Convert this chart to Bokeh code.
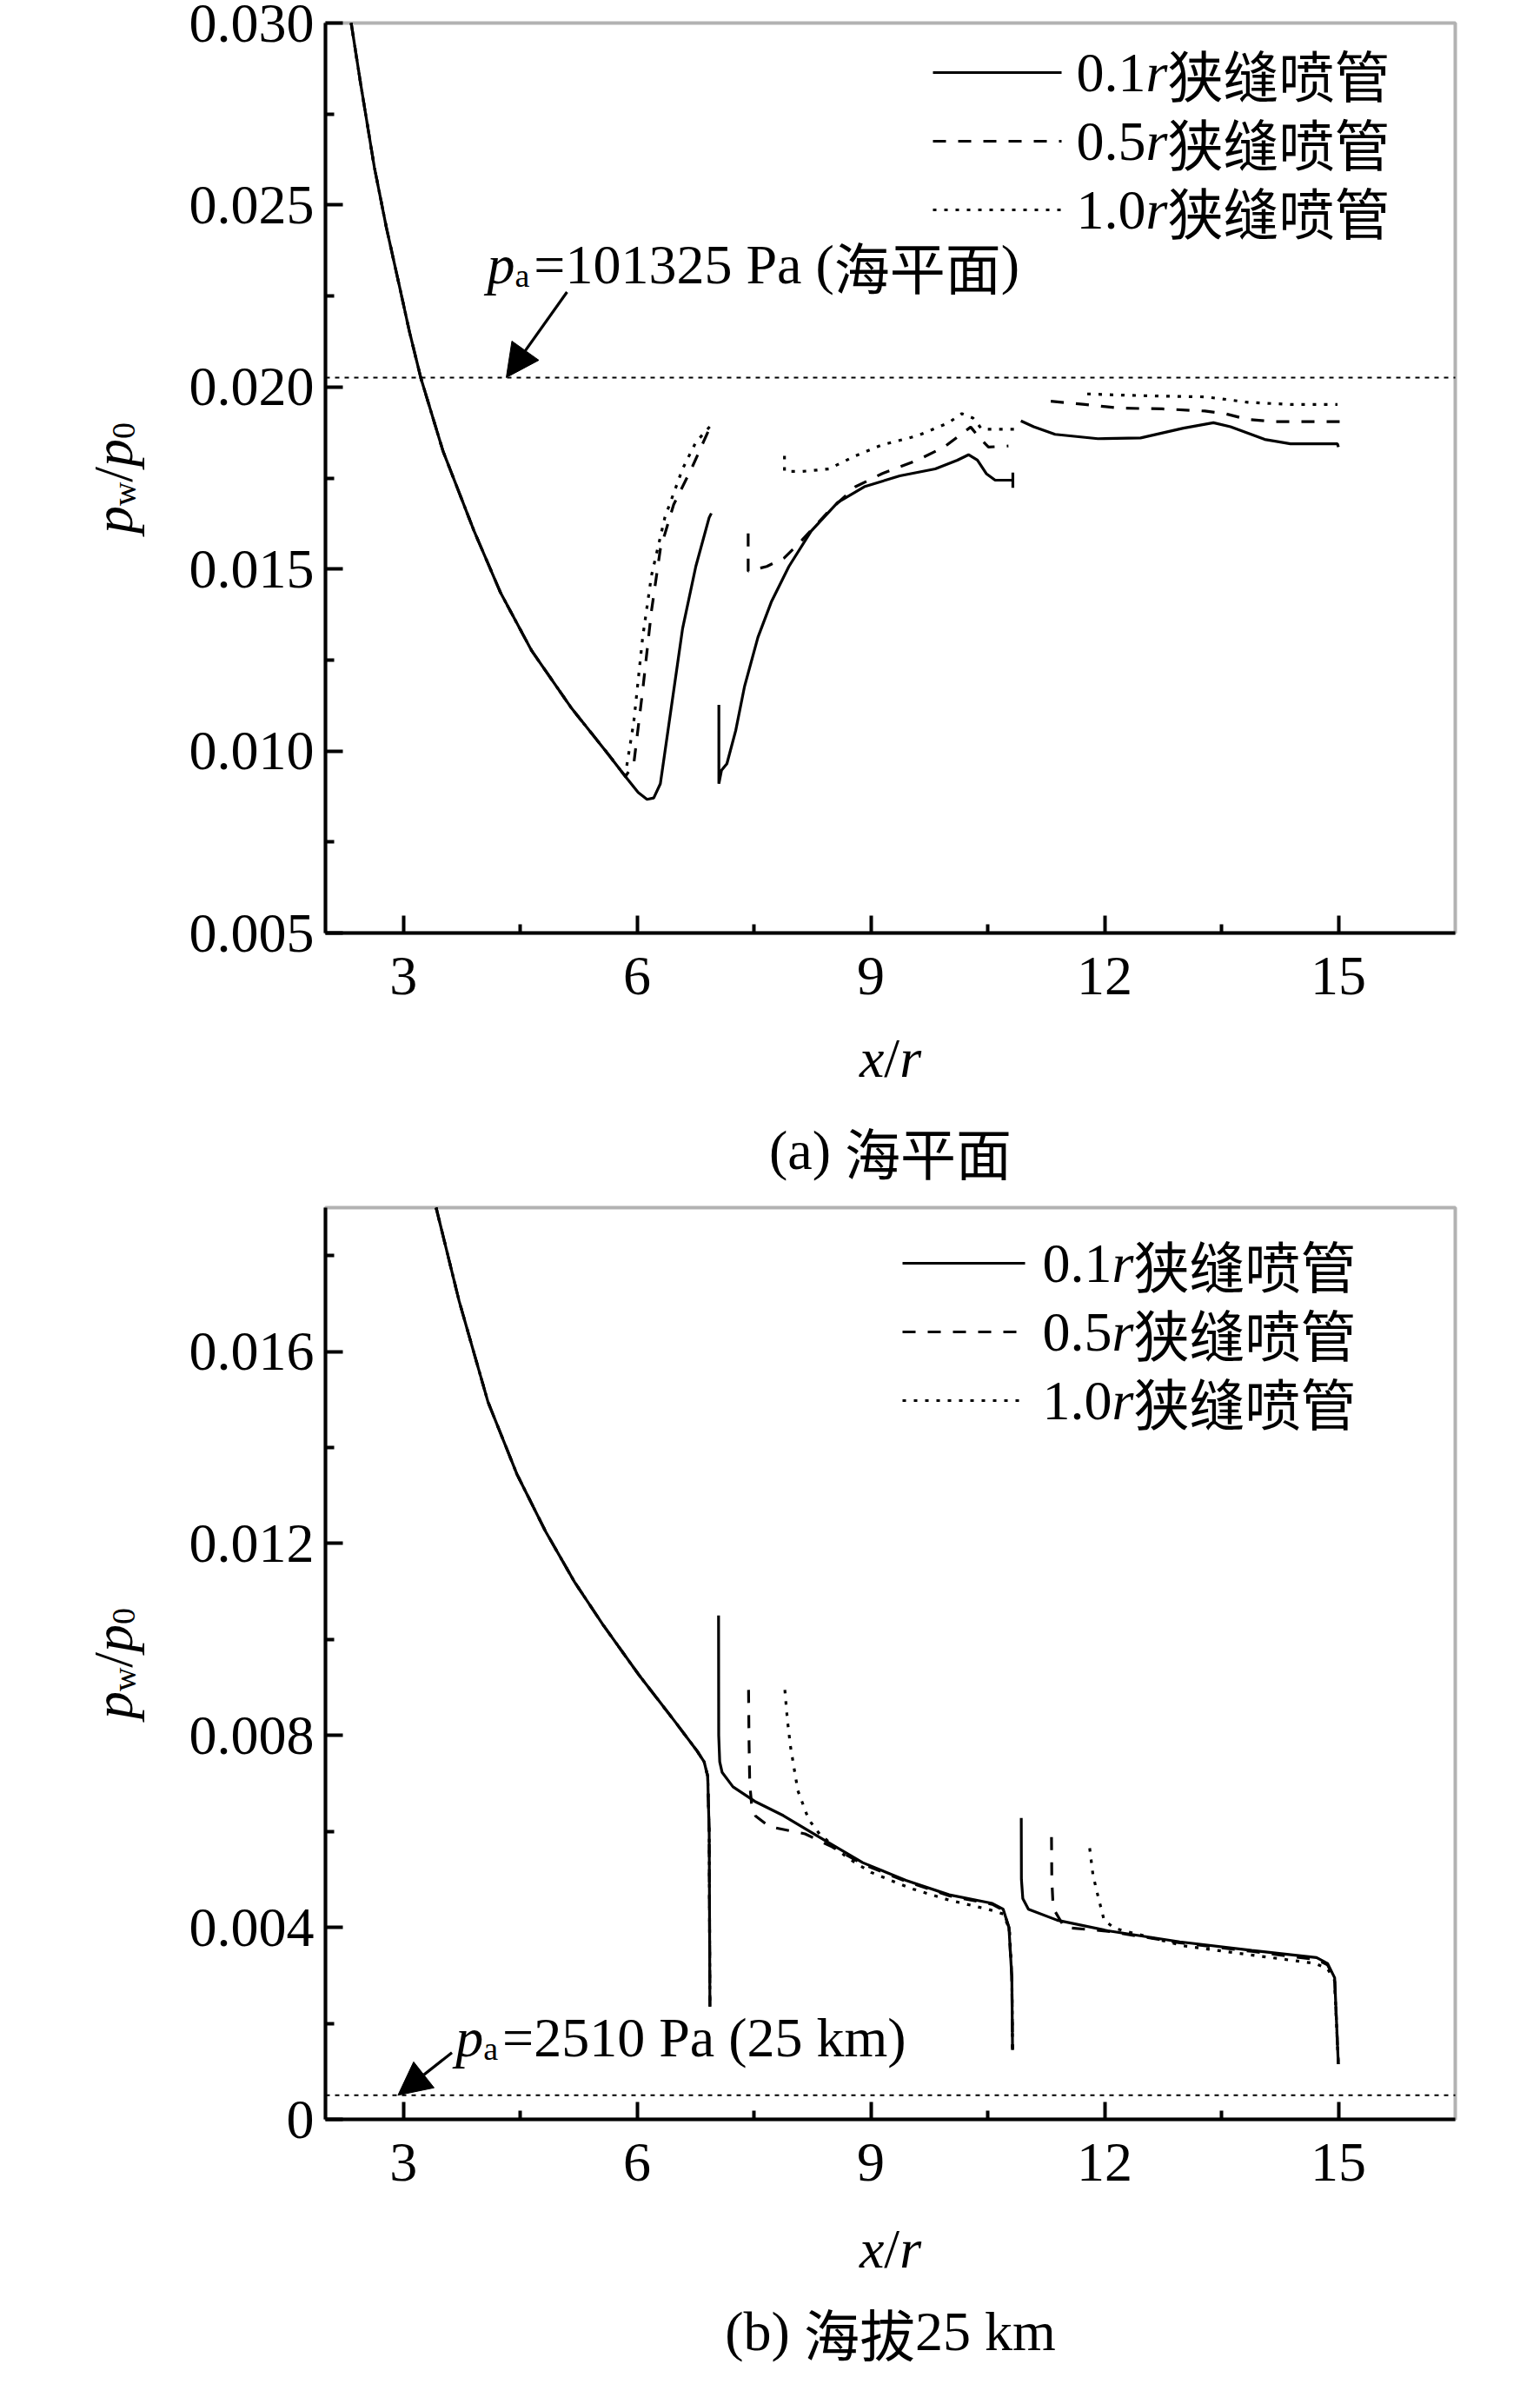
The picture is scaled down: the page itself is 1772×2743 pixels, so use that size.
import math
from bokeh.plotting import figure
from bokeh.models import (Range1d, FixedTicker, PrintfTickFormatter, Label, Arrow, NormalHead,
                          BoxAnnotation)
from bokeh.layouts import column
from bokeh.embed import file_html
from bokeh.resources import INLINE

nan = float("nan")

# ---------------- data: panel (a) sea level ----------------
A_MAIN_X = [2.33, 2.45, 2.628, 2.78, 2.941, 3.08, 3.225, 3.51, 3.908, 4.249, 4.648, 5.16, 5.615, 5.85]
A_MAIN_Y = [0.0300, 0.02835, 0.02603, 0.02440, 0.02285, 0.02150, 0.02024, 0.01823, 0.01604, 0.01434,
            0.01275, 0.01117, 0.00995, 0.00930]

a_solid_x = A_MAIN_X + [6.013, 6.127, 6.213, 6.298, 6.412, 6.583, 6.753, 6.924, 6.952, nan,
                        7.049, 7.049, 7.083, 7.152, 7.265, 7.379, 7.55, 7.721, 7.948, 8.233, 8.574,
                        8.915, 9.371, 9.826, 10.11, 10.253, 10.367, 10.481, 10.595, 10.794, 10.822,
                        10.822, 10.822, nan,
                        10.925, 11.089, 11.364, 11.913, 12.462, 13.011, 13.396, 13.615, 14.054,
                        14.384, 14.988, 15.0]
a_solid_y = A_MAIN_Y + [0.00886, 0.00867, 0.00871, 0.00910, 0.01080, 0.01336, 0.01507, 0.01641, 0.01653, nan,
                        0.01127, 0.00910, 0.00947, 0.00965, 0.01056, 0.01178, 0.01312, 0.01409, 0.01507,
                        0.01604, 0.01683, 0.01726, 0.01756, 0.01775, 0.01799, 0.01814, 0.01799, 0.01762,
                        0.01744, 0.01744, 0.01744, 0.01765, 0.01723, nan,
                        0.01907, 0.01891, 0.01870, 0.01858, 0.01860, 0.01887, 0.01902, 0.01891, 0.01856,
                        0.01844, 0.01844, 0.01835]

a_dash_x = A_MAIN_X + [5.957, 6.071, 6.184, 6.298, 6.469, 6.696, 6.924, nan,
                       7.425, 7.425, 7.664, 7.891, 8.119, 8.46, 8.802, 9.143, 9.598, 9.94, 10.168,
                       10.281, 10.395, 10.509, 10.765, nan,
                       11.309, 11.748, 12.188, 12.737, 13.286, 13.561, 13.835, 14.165, 15.016]
a_dash_y = A_MAIN_Y + [0.00965, 0.01166, 0.01385, 0.01555, 0.01677, 0.01775, 0.01884, nan,
                       0.01598, 0.01494, 0.01507, 0.01531, 0.01580, 0.01659, 0.01726, 0.01762, 0.01799,
                       0.01835, 0.01872, 0.01890, 0.01860, 0.01835, 0.01838, nan,
                       0.01961, 0.01952, 0.01942, 0.01940, 0.01934, 0.01926, 0.01911, 0.01905, 0.01905]

a_dot_x = A_MAIN_X + [5.871, 5.957, 6.071, 6.184, 6.355, 6.583, 6.753, 6.952, nan,
                      7.891, 7.891, 8.119, 8.46, 8.802, 9.143, 9.598, 9.997, 10.168, 10.31, 10.424,
                      10.851, nan,
                      11.776, 12.188, 12.737, 13.286, 13.561, 13.835, 14.384, 14.988]
a_dot_y = A_MAIN_Y + [0.00965, 0.01080, 0.01312, 0.01482, 0.01641, 0.01775, 0.01848, 0.01896, nan,
                      0.01811, 0.01768, 0.01768, 0.01775, 0.01811, 0.01841, 0.01866, 0.01902, 0.01927,
                      0.01915, 0.01884, 0.01884, nan,
                      0.01981, 0.01978, 0.01975, 0.01973, 0.01966, 0.01958, 0.01952, 0.01952]

A_REF = 0.02026          # p_a = 101325 Pa
A_YTICKS = [0.005, 0.010, 0.015, 0.020, 0.025, 0.030]
A_YMINOR = [0.0075, 0.0125, 0.0175, 0.0225, 0.0275]

# ---------------- data: panel (b) 25 km ----------------
B_MAIN_X = [3.42, 3.716, 4.086, 4.456, 4.826, 5.196, 5.565, 6.028, 6.49, 6.768, 6.86, 6.906, 6.925, 6.934]
B_MAIN_Y = [0.0190, 0.01705, 0.01495, 0.01345, 0.01225, 0.01120, 0.01030, 0.00925, 0.00828, 0.00768,
            0.00745, 0.00715, 0.00595, 0.00235]

b_solid_x = B_MAIN_X + [nan, 7.045, 7.047, 7.06, 7.091, 7.23, 7.507, 7.877, 8.34, 8.895, 9.449, 10.004,
                        10.559, 10.698, 10.772, 10.809, 10.818, nan,
                        10.93, 10.932, 10.95, 11.022, 11.392, 12.039, 12.964, 13.889, 14.72, 14.86,
                        14.952, 14.999]
b_solid_y = B_MAIN_Y + [nan, 0.01050, 0.00800, 0.00745, 0.00723, 0.00693, 0.00663, 0.00633, 0.00588,
                        0.00535, 0.00498, 0.00468, 0.00450, 0.00438, 0.00400, 0.00295, 0.00145, nan,
                        0.00628, 0.00500, 0.00460, 0.00438, 0.00415, 0.00393, 0.00370, 0.00352, 0.00337,
                        0.00325, 0.00295, 0.00115]

b_dash_x = B_MAIN_X + [nan, 7.43, 7.435, 7.445, 7.47, 7.52, 7.7, 8.155, 8.5, 8.895, 9.449, 10.004, 10.559,
                       10.698, 10.772, 10.809, 10.818, nan,
                       11.318, 11.322, 11.34, 11.484, 12.039, 12.964, 13.889, 14.72, 14.86, 14.952, 14.999]
b_dash_y = B_MAIN_Y + [nan, 0.00895, 0.00800, 0.00700, 0.00655, 0.00632, 0.00610, 0.00595, 0.00568,
                       0.00532, 0.00496, 0.00466, 0.00448, 0.00436, 0.00400, 0.00295, 0.00145, nan,
                       0.00588, 0.00500, 0.00440, 0.00400, 0.00392, 0.00368, 0.00350, 0.00333, 0.00322,
                       0.00293, 0.00115]

b_dot_x = B_MAIN_X + [nan, 7.896, 7.93, 7.97, 8.063, 8.201, 8.34, 8.7, 9.0, 9.5, 10.0, 10.5, 10.7, 10.78,
                      10.81, 10.818, nan,
                      11.808, 11.85, 11.9, 11.993, 12.13, 13.0, 14.0, 14.7, 14.86, 14.95, 14.999]
b_dot_y = B_MAIN_Y + [nan, 0.00895, 0.00830, 0.00775, 0.00685, 0.00625, 0.00595, 0.00545, 0.00515,
                      0.00482, 0.00457, 0.00438, 0.00428, 0.00395, 0.00295, 0.00145, nan,
                      0.00565, 0.00510, 0.00475, 0.00415, 0.00398, 0.00362, 0.00340, 0.00325, 0.00314,
                      0.00290, 0.00115]

B_REF = 0.000502         # p_a = 2510 Pa
B_YTICKS = [0.0, 0.004, 0.008, 0.012, 0.016]
B_YMINOR = [0.002, 0.006, 0.010, 0.014, 0.018]

X_LIM = (2.0, 16.5)
X_TICKS = [3, 6, 9, 12, 15]
X_MINOR = [4.5, 7.5, 10.5, 13.5]
SERIES_NUM = ["0.1", "0.5", "1.0"]
SERIES_SUFFIX = "狭缝喷管"

# ---------------- styling / layout (page pixels) ----------------
FONT_LAT = "Liberation Serif"
FONT_CJK = "Noto Sans CJK SC"
FS = 64
SUB = 38
LW = 3.2
FRAME_LW = 4
DASH = "15 14"
DOT = "4 9"
REF_DASH = "5 6"
W = 1740
CL = 8                   # canvas left in page px
FL, FR = 382, 1682       # frame left / right in page px
TEXT_FIX = 22            # compensates the renderer's baseline placement of labels
ROT_FIX = 5

TIMES = {'.': .25, '=': .564, ' ': .25, 'P': .556, 'a': .444, '(': .333, ')': .333,
         'k': .5, 'm': .778, '/': .278, 'b': .5, 'w': .722}
ITAL = {'p': .5, 'x': .444, 'r': .389}


def is_cjk(c):
    return ord(c) > 0x2e80


def adv(s, size, italic=False):
    w = 0.0
    for c in s:
        if is_cjk(c):
            w += 1.0
        elif italic:
            w += ITAL.get(c, .5)
        else:
            w += TIMES.get(c, .5)
    return w * size


def runs(s):
    out = []
    for c in s:
        if out and is_cjk(out[-1][-1]) == is_cjk(c):
            out[-1] += c
        else:
            out.append(c)
    return out


def rich(p, x, y, pieces, x_offset=0.0, y_offset=0.0, rotated=False, center=False):
    """pieces: (text, size, italic, baseline shift, extra gap after)"""
    total = sum(adv(t, s, it) + g for t, s, it, sh, g in pieces)
    pos = -total / 2 if center else 0.0
    for t, s, it, sh, g in pieces:
        for run in runs(t):
            if rotated:
                dx, dy = -(sh + ROT_FIX), pos
            else:
                dx, dy = pos, sh + TEXT_FIX
            cjk = is_cjk(run[0])
            p.add_layout(Label(x=x, y=y, x_offset=x_offset + dx, y_offset=y_offset + dy, text=run,
                               angle=math.pi / 2 if rotated else 0.0,
                               text_font=FONT_CJK if cjk else FONT_LAT, text_font_size=f"{s}px",
                               text_font_style="italic" if it else "normal",
                               text_color="black", text_baseline="alphabetic", text_align="left"))
            pos += adv(run, s, it)
        pos += g


def make_panel(ctop, H, ftop, fbot, ylim, yticks, yminor, series, ref, legend_rows, legend_line,
               legend_text_x, ann_xy, ann_text, arrow, caption, xlabel_off, caption_off):
    x0, x1 = X_LIM
    y0, y1 = ylim
    xpp = (x1 - x0) / (FR - FL)
    ypp = (y1 - y0) / (fbot - ftop)
    px2x = lambda px: x0 + (px - FL) * xpp
    px2y = lambda py: y1 - (py - ftop) * ypp
    xr = Range1d(px2x(CL), px2x(CL + W))
    yr = Range1d(px2y(ctop + H), px2y(ctop))

    p = figure(width=W, height=H, x_range=xr, y_range=yr, output_backend="svg",
               toolbar_location=None, min_border=0)
    p.min_border_left = p.min_border_right = p.min_border_top = p.min_border_bottom = 0
    p.title.visible = False
    p.xgrid.visible = False
    p.ygrid.visible = False
    p.outline_line_color = None
    p.background_fill_color = "white"
    p.border_fill_color = "white"

    p.xaxis.ticker = FixedTicker(ticks=X_TICKS, minor_ticks=X_MINOR)
    p.yaxis.ticker = FixedTicker(ticks=yticks, minor_ticks=yminor)
    p.yaxis.formatter = PrintfTickFormatter(format="%.3f")
    p.yaxis.major_label_overrides = {0: "0"}
    p.xaxis.fixed_location = y0
    p.xaxis.bounds = (x0, x1)
    p.yaxis.fixed_location = x0
    p.yaxis.bounds = (y0, y1)
    for ax in (p.xaxis[0], p.yaxis[0]):
        ax.major_tick_in = 20
        ax.major_tick_out = 0
        ax.minor_tick_in = 10
        ax.minor_tick_out = 0
        ax.axis_line_width = FRAME_LW
        ax.major_tick_line_width = FRAME_LW
        ax.minor_tick_line_width = FRAME_LW
        ax.major_label_text_font = FONT_LAT
        ax.major_label_text_font_size = f"{FS}px"
        ax.major_label_text_color = "black"
    p.xaxis.major_label_standoff = 28
    p.yaxis.major_label_standoff = 13

    # frame box
    p.add_layout(BoxAnnotation(left=x0, right=x1, bottom=y0, top=y1, fill_alpha=0.0,
                               line_color="black", line_width=FRAME_LW, level="overlay"))
    # ambient pressure reference line
    p.add_layout(Arrow(end=None, x_start=x0, x_end=x1, y_start=ref, y_end=ref,
                       line_color="black", line_width=2, line_dash=REF_DASH))

    (sx, sy), (dx, dy), (tx, ty) = series
    p.line(tx, ty, line_color="black", line_width=LW, line_dash=DOT)
    p.line(dx, dy, line_color="black", line_width=LW, line_dash=DASH)
    p.line(sx, sy, line_color="black", line_width=LW)

    # legend
    for num, yc, dash in zip(SERIES_NUM, legend_rows, [None, DASH, DOT]):
        kw = {} if dash is None else {"line_dash": dash}
        p.add_layout(Arrow(end=None, x_start=px2x(legend_line[0]), x_end=px2x(legend_line[1]),
                           y_start=px2y(yc), y_end=px2y(yc), line_color="black", line_width=LW, **kw))
        rich(p, px2x(legend_text_x), px2y(yc + 22),
             [(num, FS, False, 0, 0), ("r", FS, True, 0, 0), (SERIES_SUFFIX, FS, False, 0, 0)])

    # annotation p_a = ...
    rich(p, ann_xy[0], ann_xy[1],
         [("p", FS, True, 0, 0), ("a", SUB, False, -12, 5), (ann_text, FS, False, 0, 0)])
    (ax0, ay0), (ax1, ay1) = arrow
    p.add_layout(Arrow(end=NormalHead(size=38, fill_color="black", line_color="black", line_width=1),
                       x_start=ax0, y_start=ay0, x_end=ax1, y_end=ay1,
                       line_color="black", line_width=LW))

    ymid = (y0 + y1) / 2
    # y axis label p_w/p_0
    rich(p, x0, ymid, [("p", FS, True, 0, 0), ("w", SUB, False, -12, 0), ("/", FS, False, 0, 0),
                       ("p", FS, True, 0, 0), ("0", SUB, False, -12, 0)],
         x_offset=-(FL - 143), rotated=True, center=True)
    # x axis label x/r
    rich(p, (x0 + x1) / 2, y0, [("x", FS, True, 0, 0), ("/", FS, False, 0, 0), ("r", FS, True, 0, 0)],
         y_offset=-xlabel_off, center=True)
    # caption
    rich(p, (x0 + x1) / 2, y0, [(caption, FS, False, 0, 0)], y_offset=-caption_off, center=True)
    return p


pa = make_panel(8, 1377, 34, 1081, (0.005, 0.030), A_YTICKS, A_YMINOR,
                ((a_solid_x, a_solid_y), (a_dash_x, a_dash_y), (a_dot_x, a_dot_y)),
                A_REF, [91, 170, 249], (1081, 1229), 1246,
                (4.074, 0.02283), "=101325 Pa (海平面)",
                ((5.10, 0.02261), (4.32, A_REF)), "(a) 海平面", 166, 272)

pb = make_panel(1385, 1350, 1397, 2446, (0.0, 0.019), B_YTICKS, B_YMINOR,
                ((b_solid_x, b_solid_y), (b_dash_x, b_dash_y), (b_dot_x, b_dot_y)),
                B_REF, [1461, 1540, 1619], (1046, 1187), 1207,
                (3.67, 0.00130), "=2510 Pa (25 km)",
                ((3.623, 0.00139), (2.93, B_REF)), "(b) 海拔25 km", 171, 266)

layout = column(pa, pb)
open("out.html", "w").write(file_html(layout, INLINE))
